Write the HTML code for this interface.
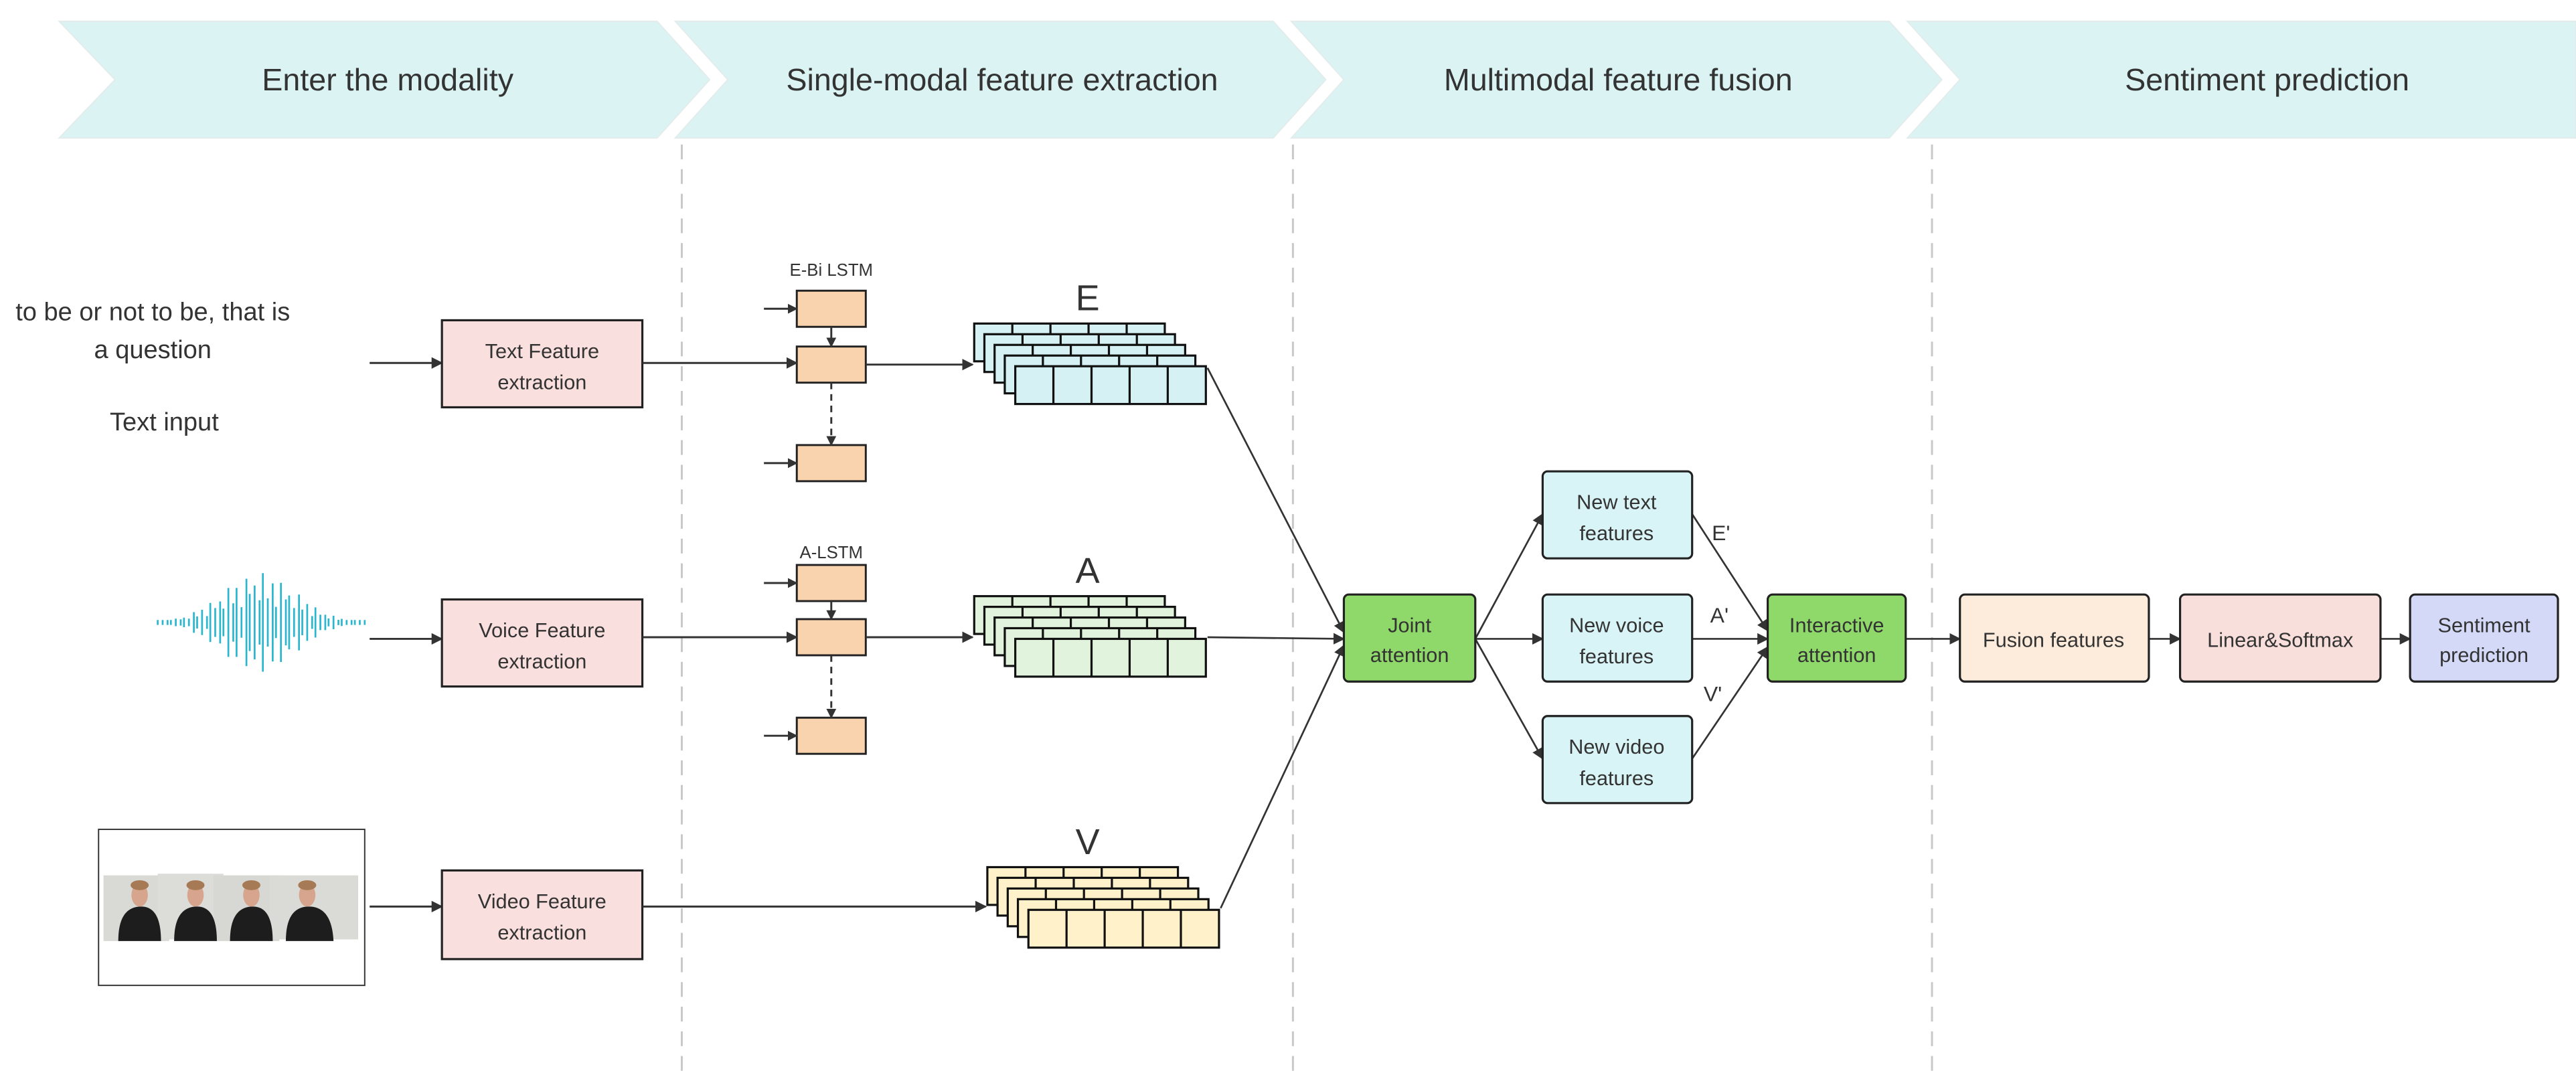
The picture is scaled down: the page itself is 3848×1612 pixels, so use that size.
<!DOCTYPE html>
<html><head><meta charset="utf-8"><style>
html,body{margin:0;padding:0;background:#fff;}
svg{display:block;}
text{font-family:"Liberation Sans","DejaVu Sans",sans-serif;fill:#333;}
</style></head><body>
<svg width="3848" height="1612" viewBox="0 0 1568 657" preserveAspectRatio="none" xmlns="http://www.w3.org/2000/svg">
<defs>
<marker id="ar" viewBox="0 0 10 10" refX="9" refY="5" markerWidth="7" markerHeight="7" markerUnits="userSpaceOnUse" orient="auto"><path d="M0 0L10 5L0 10z" fill="#333"/></marker>
<marker id="ars" viewBox="0 0 10 10" refX="9" refY="5" markerWidth="6" markerHeight="6" markerUnits="userSpaceOnUse" orient="auto"><path d="M0 0L10 5L0 10z" fill="#333"/></marker>
<g id="L"><rect width="116" height="23" stroke="#111" stroke-width="1.3"/><path d="M23.2 0v23M46.4 0v23M69.6 0v23M92.8 0v23" stroke="#111" stroke-width="1.3"/></g>
<g id="cell"><rect width="42" height="22" fill="#f9d3ae" stroke="#222" stroke-width="1.2"/></g>
</defs>

<!-- header chevrons -->
<g fill="#dbf3f3" stroke="#e3ecec" stroke-width="0.8">
<path d="M36 13H400L432 48.5L400 84H36L70 48.5Z"/>
<path d="M411 13H775L807 48.5L775 84H411L443 48.5Z"/>
<path d="M786 13H1150L1182 48.5L1150 84H786L818 48.5Z"/>
<path d="M1161 13H1568V84H1161L1193 48.5Z"/>
</g>
<g font-size="19" text-anchor="middle">
<text x="236" y="55">Enter the modality</text>
<text x="610" y="55">Single-modal feature extraction</text>
<text x="985" y="55">Multimodal feature fusion</text>
<text x="1380" y="55">Sentiment prediction</text>
</g>

<!-- dashed separators -->
<g stroke="#c8c8c8" stroke-width="1.2" stroke-dasharray="9 6">
<path d="M415 88V657M787 88V657M1176 88V657"/>
</g>

<!-- text input -->
<g font-size="15.5" text-anchor="middle" fill="#333">
<text x="93" y="195">to be or not to be, that is</text>
<text x="93" y="218">a question</text>
<text x="100" y="262">Text input</text>
</g>

<!-- waveform -->
<path stroke="#2bb6cf" stroke-width="1.1" fill="none" d="M96 377.5V380.5M99 377.5V380.5M102 377.5V380.5M104 377.5V380.5M107 376.7V381.3M110 377.1V380.9M112 376.1V381.9M115 376.7V381.3M118 372.7V385.3M120 375.3V382.7M123 371.3V386.7M126 375.1V382.9M128 367.1V390.9M131 370.2V387.8M134 366.2V391.8M136 370.6V387.4M139 358V400M142 367.3V390.7M144 358V400M147 369.7V388.3M150 352.4V405.6M152 361.6V396.4M155 356.5V401.5M158 365.5V392.5M160 349V409M163 364.3V393.7M166 355.2V402.8M168 369.5V388.5M171 354.9V403.1M174 365V393M176 362.6V395.4M179 370.2V387.8M182 362V396M184 371.2V386.8M187 367.8V390.2M190 375.1V382.9M192 369.8V388.2M195 374.3V383.7M198 374.3V383.7M200 376.6V381.4M203 374.9V383.1M206 377.4V380.6M208 376.8V381.2M211 377.5V380.5M214 377.5V380.5M216 377.5V380.5M219 377.5V380.5M222 377.5V380.5"/>

<!-- video image -->
<rect x="60" y="505" width="162" height="95" fill="#fff" stroke="#333" stroke-width="0.8"/>
<g>
<rect x="63" y="533" width="40" height="40" fill="#d9d9d6"/>
<rect x="96" y="532" width="40" height="40" fill="#dcdcd8"/>
<rect x="130" y="533" width="40" height="40" fill="#d7d7d3"/>
<rect x="164" y="533" width="54" height="39" fill="#dadad6"/>
<g fill="#1d1d1d">
<path d="M72 573Q72 552 86 552Q98 552 98 573Z"/>
<path d="M106 573Q106 552 120 552Q132 552 132 573Z"/>
<path d="M140 573Q140 552 154 552Q166 552 166 573Z"/>
<path d="M174 573Q174 552 188 552Q202 552 203 573Z"/>
</g>
<g fill="#d7a58d">
<ellipse cx="85" cy="545" rx="5" ry="7"/><ellipse cx="119" cy="545" rx="5" ry="7"/><ellipse cx="153" cy="545" rx="5" ry="7"/><ellipse cx="187" cy="545" rx="5" ry="7"/>
</g>
<g fill="#a67a55">
<ellipse cx="85" cy="539" rx="5.5" ry="3"/><ellipse cx="119" cy="539" rx="5.5" ry="3"/><ellipse cx="153" cy="539" rx="5.5" ry="3"/><ellipse cx="187" cy="539" rx="5.5" ry="3"/>
</g>
</g>

<!-- input arrows -->
<g stroke="#333" stroke-width="1.2" fill="none" marker-end="url(#ar)">
<path d="M225 221H269"/>
<path d="M225 389H269"/>
<path d="M225 552H269"/>
</g>

<!-- feature extraction boxes -->
<g fill="#f9dfdd" stroke="#222" stroke-width="1.3">
<rect x="269" y="195" width="122" height="53"/>
<rect x="269" y="365" width="122" height="53"/>
<rect x="269" y="530" width="122" height="54"/>
</g>
<g font-size="12.5" text-anchor="middle">
<text x="330" y="218">Text Feature</text><text x="330" y="237">extraction</text>
<text x="330" y="388">Voice Feature</text><text x="330" y="407">extraction</text>
<text x="330" y="553">Video Feature</text><text x="330" y="572">extraction</text>
</g>

<!-- LSTM text -->
<text x="506" y="168" font-size="10.5" text-anchor="middle" fill="#555">E-Bi LSTM</text>
<use href="#cell" x="485" y="177"/>
<use href="#cell" x="485" y="211"/>
<use href="#cell" x="485" y="271"/>
<g stroke="#333" stroke-width="1.2" fill="none" marker-end="url(#ars)">
<path d="M465 188H485"/><path d="M465 282H485"/>
<path d="M506 199V211"/>
<path d="M506 233V271" stroke-dasharray="4 3"/>
<path d="M391 221H485" marker-end="url(#ar)"/>
<path d="M527 222H592" marker-end="url(#ar)"/>
</g>

<!-- LSTM voice -->
<text x="506" y="340" font-size="10.5" text-anchor="middle" fill="#555">A-LSTM</text>
<use href="#cell" x="485" y="344"/>
<use href="#cell" x="485" y="377"/>
<use href="#cell" x="485" y="437"/>
<g stroke="#333" stroke-width="1.2" fill="none" marker-end="url(#ars)">
<path d="M465 355H485"/><path d="M465 448H485"/>
<path d="M506 366V377"/>
<path d="M506 399V437" stroke-dasharray="4 3"/>
<path d="M391 388H485" marker-end="url(#ar)"/>
<path d="M527 388H592" marker-end="url(#ar)"/>
<path d="M391 552H600" marker-end="url(#ar)"/>
</g>

<!-- stacks -->
<text x="662" y="189" font-size="22" text-anchor="middle">E</text>
<g fill="#d5f1f3">
<use href="#L" x="593" y="197"/><use href="#L" x="599.2" y="203.5"/><use href="#L" x="605.4" y="210"/><use href="#L" x="611.6" y="216.5"/><use href="#L" x="618" y="223"/>
</g>
<text x="662" y="355" font-size="22" text-anchor="middle">A</text>
<g fill="#e1f3dc">
<use href="#L" x="593" y="363"/><use href="#L" x="599.2" y="369.5"/><use href="#L" x="605.4" y="376"/><use href="#L" x="611.6" y="382.5"/><use href="#L" x="618" y="389"/>
</g>
<text x="662" y="520" font-size="22" text-anchor="middle">V</text>
<g fill="#fff2cb">
<use href="#L" x="601" y="528"/><use href="#L" x="607.2" y="534.5"/><use href="#L" x="613.4" y="541"/><use href="#L" x="619.6" y="547.5"/><use href="#L" x="626" y="554"/>
</g>

<!-- stacks to joint attention -->
<g stroke="#333" stroke-width="1.1" fill="none" marker-end="url(#ar)">
<path d="M735 224L818 385"/>
<path d="M735 388L818 389"/>
<path d="M743 553L818 393"/>
<path d="M898 389L939 313"/>
<path d="M898 389H939"/>
<path d="M898 389L939 462"/>
<path d="M1030 313L1076 384"/>
<path d="M1030 389H1076"/>
<path d="M1030 462L1076 394"/>
<path d="M1160 389H1193"/>
<path d="M1308 389H1327"/>
<path d="M1449 389H1467"/>
</g>

<!-- fusion boxes -->
<g stroke="#222" stroke-width="1.3">
<rect x="818" y="362" width="80" height="53" rx="3" fill="#8fd96a"/>
<rect x="939" y="287" width="91" height="53" rx="3" fill="#d9f4f6"/>
<rect x="939" y="362" width="91" height="53" rx="3" fill="#d9f4f6"/>
<rect x="939" y="436" width="91" height="53" rx="3" fill="#d9f4f6"/>
<rect x="1076" y="362" width="84" height="53" rx="3" fill="#8fd96a"/>
<rect x="1193" y="362" width="115" height="53" rx="3" fill="#fdecdb"/>
<rect x="1327" y="362" width="122" height="53" rx="3" fill="#f9dfdc"/>
<rect x="1467" y="362" width="90" height="53" rx="3" fill="#d3d9f7"/>
</g>
<g font-size="12.5" text-anchor="middle">
<text x="858" y="385">Joint</text><text x="858" y="403">attention</text>
<text x="984" y="310">New text</text><text x="984" y="329">features</text>
<text x="984" y="385">New voice</text><text x="984" y="404">features</text>
<text x="984" y="459">New video</text><text x="984" y="478">features</text>
<text x="1118" y="385">Interactive</text><text x="1118" y="403">attention</text>
<text x="1250" y="394">Fusion features</text>
<text x="1388" y="394">Linear&amp;Softmax</text>
<text x="1512" y="385">Sentiment</text><text x="1512" y="403">prediction</text>
</g>
<g font-size="13" fill="#444">
<text x="1042" y="329">E'</text>
<text x="1041" y="379">A'</text>
<text x="1037" y="427">V'</text>
</g>
</svg>
</body></html>
